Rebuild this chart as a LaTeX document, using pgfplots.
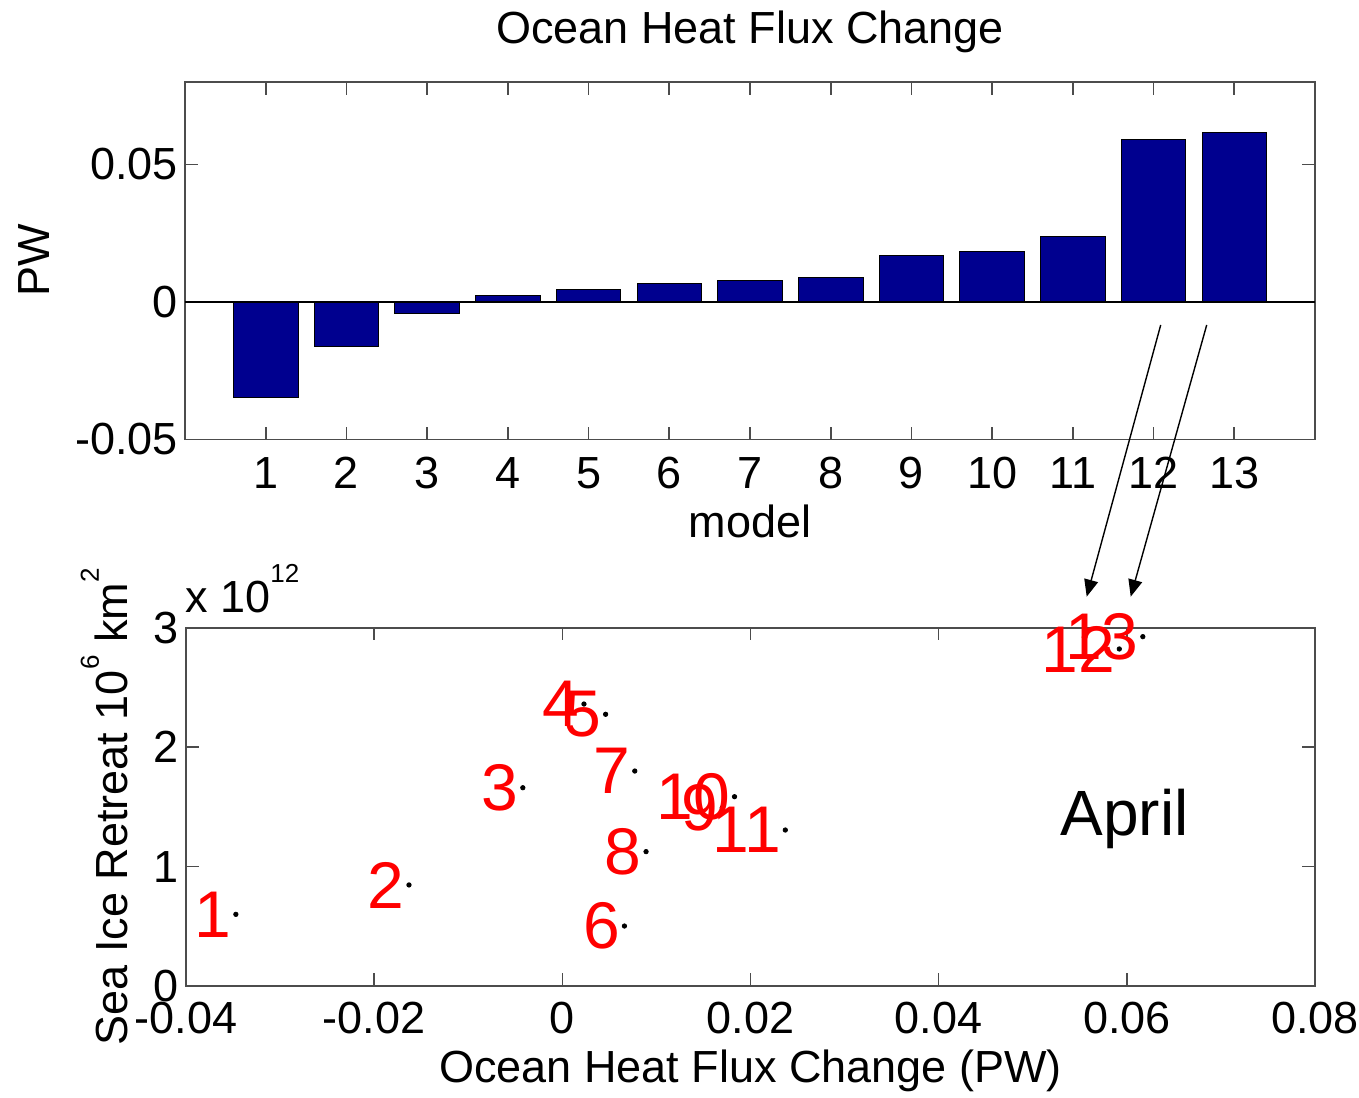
\documentclass[border=0pt]{standalone}
\usepackage{fontspec}
\setmainfont{Liberation Sans}
\usepackage{pgfplots}
\usepackage{pgfplotstable}
\pgfplotsset{compat=1.18}
\usetikzlibrary{arrows.meta}
\definecolor{barblue}{RGB}{0,0,143}
\newcommand\sups[1]{\raisebox{14.5pt}{\fontsize{13}{13}\selectfont #1}}
\pgfplotstableread{
model flux retreat
1 -0.0347 0.600
2 -0.0163 0.846
3 -0.0042 1.660
4 0.0023 2.361
5 0.0046 2.275
6 0.0066 0.502
7 0.0077 1.800
8 0.0089 1.125
9 0.0170 1.493
10 0.0183 1.585
11 0.0237 1.306
12 0.0592 2.822
13 0.0617 2.925
}\datatable
\begin{document}
\begin{tikzpicture}
\useasboundingbox (0pt,0pt) rectangle (679.5pt,548.5pt);
\pgfplotsset{
  every axis/.append style={
    scale only axis, anchor=south west,
    font=\fontsize{22.5}{27}\selectfont,
    axis line style={black!70, line width=0.8pt},
    every tick/.style={black!70, line width=0.8pt},
    major tick length=6.3pt,
    tick align=inside,
    /pgf/number format/assume math mode=true,
    scaled ticks=false,
  }
}
\begin{axis}[at={(92.5pt,328.75pt)}, width=565pt, height=178.75pt,
  xmin=0, xmax=14, ymin=-0.05, ymax=0.08,
  xtick={1,...,13},
  xticklabel style={yshift=-5.5pt},
  ytick={-0.05,0,0.05}, yticklabels={-0.05,0,0.05},
  title={Ocean Heat Flux Change},
  title style={at={(axis description cs:0.5,1.075)}, anchor=base},
  xlabel={model},
  xlabel style={at={(axis description cs:0.5,-0.275)}, anchor=base},
  ylabel={PW},
  ylabel style={at={(axis description cs:-0.1195,0.5)}, anchor=base},
]
\addplot[ybar, bar width=0.8, fill=barblue, draw=black, line width=0.5pt] table[x=model, y=flux] {\datatable};
\addplot[black, line width=0.6pt] coordinates {(0,0) (14,0)};
\end{axis}
\begin{axis}[at={(93pt,55.5pt)}, width=564.5pt, height=179.15pt,
  xmin=-0.04, xmax=0.08, ymin=0, ymax=3,
  xtick={-0.04,-0.02,0,0.02,0.04,0.06,0.08},
  xticklabels={-0.04,-0.02,0,0.02,0.04,0.06,0.08},
  xticklabel style={yshift=-4.5pt},
  ytick={0,1,2,3},
  xlabel={Ocean Heat Flux Change (PW)},
  xlabel style={at={(axis description cs:0.5,-0.2707)}, anchor=base},
  ylabel={Sea Ice Retreat 10\sups{6} km\sups{2}},
  ylabel style={at={(axis description cs:-0.0514,0.5)}, anchor=base},
  clip=false,
]
\addplot[only marks, mark=*, mark size=1.1pt, black,
  point meta=explicit symbolic, nodes near coords,
  every node near coord/.append style={anchor=east, text=red, inner sep=0pt, xshift=-2pt, font=\fontsize{33}{33}\selectfont}]
  table[x=flux, y=retreat, meta=model] {\datatable};
\node[anchor=base west, inner sep=0pt, font=\fontsize{32}{32}\selectfont] at (axis cs:0.0529,1.264) {April};
\end{axis}
\node[anchor=base west, inner sep=0pt, font=\fontsize{22.5}{27}\selectfont] at (92.5pt,242pt) {x 10\raisebox{15pt}{\fontsize{13}{13}\selectfont 12}};
\draw[-{Triangle[length=8.5pt,width=7pt]}, line width=0.7pt] (580.35pt,386pt) -- (543.35pt,250.15pt);
\draw[-{Triangle[length=8.5pt,width=7pt]}, line width=0.7pt] (603.35pt,386pt) -- (565.35pt,250.15pt);
\end{tikzpicture}
\end{document}
